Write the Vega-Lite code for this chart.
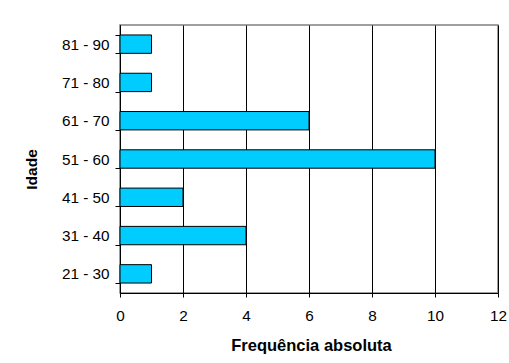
{
  "$schema": "https://vega.github.io/schema/vega-lite/v6.json",
  "width": 378,
  "height": 268,
  "autosize": {"type": "none"},
  "padding": {"left": 120, "top": 25, "right": 11, "bottom": 70},
  "background": "white",
  "config": {
    "font": "Liberation Sans",
    "view": {"stroke": "#808080", "strokeWidth": 1.5},
    "axis": {"labelColor": "black", "titleColor": "black", "domainColor": "black", "tickColor": "black", "labelFontSize": 15, "titleFontSize": 15.5, "titleFontWeight": "bold"}
  },
  "data": {
    "values": [
      {"Idade": "21 - 30", "Freq": 1},
      {"Idade": "31 - 40", "Freq": 4},
      {"Idade": "41 - 50", "Freq": 2},
      {"Idade": "51 - 60", "Freq": 10},
      {"Idade": "61 - 70", "Freq": 6},
      {"Idade": "71 - 80", "Freq": 1},
      {"Idade": "81 - 90", "Freq": 1}
    ]
  },
  "mark": {"type": "bar", "fill": "#00CCFF", "stroke": "black", "strokeWidth": 1},
  "encoding": {
    "y": {
      "field": "Idade",
      "type": "nominal",
      "sort": ["81 - 90", "71 - 80", "61 - 70", "51 - 60", "41 - 50", "31 - 40", "21 - 30"],
      "scale": {"paddingInner": 0.52, "paddingOuter": 0.26},
      "axis": {
        "title": "Idade",
        "tickBand": "extent",
        "tickSize": 5,
        "labelPadding": 6,
        "grid": false,
        "titleX": -88.5,
        "titleY": 144,
        "titleAngle": -90,
        "titleAlign": "center",
        "titleBaseline": "middle",
        "titleFontSize": 15.5,
        "labelFontSize": 15.3
      }
    },
    "x": {
      "field": "Freq",
      "type": "quantitative",
      "scale": {"domain": [0, 12], "nice": false},
      "axis": {
        "title": "Frequência absoluta",
        "values": [0, 2, 4, 6, 8, 10, 12],
        "tickSize": 4,
        "labelPadding": 11,
        "labelFontSize": 15.3,
        "grid": true,
        "gridColor": "black",
        "gridOpacity": 1,
        "titleY": 52,
        "titleX": 191,
        "titleBaseline": "middle",
        "titleFontSize": 16.5,
        "labelFlush": false
      }
    }
  }
}
